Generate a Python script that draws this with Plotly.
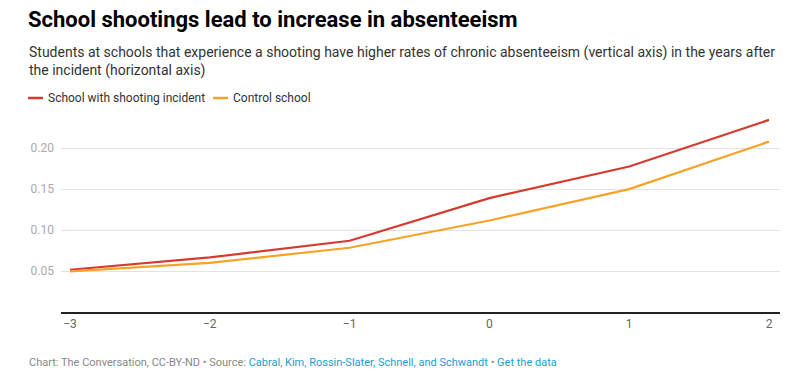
import plotly.graph_objects as go

years = [-3, -2, -1, 0, 1, 2]
shooting_school = [0.0516, 0.0666, 0.087, 0.139, 0.1776, 0.2345]
control_school = [0.0495, 0.060, 0.0784, 0.1117, 0.150, 0.208]
series_names = ["School with shooting incident", "Control school"]
series_colors = ["#d63a2f", "#f5a327"]
y_ticks = [0.05, 0.10, 0.15, 0.20]
x_ticks = [-3, -2, -1, 0, 1, 2]

W, H = 806, 385
L, R, T, B = 61, 26, 115, 73
pw, ph = W - L - R, H - T - B

def px(x):
    return (x - L) / pw

def py(y):
    return (H - B - y) / ph

fig = go.Figure()
for name, vals, col in zip(series_names, [shooting_school, control_school], series_colors):
    fig.add_trace(go.Scatter(x=years, y=vals, mode="lines", name=name,
                             line=dict(color=col, width=2.2), showlegend=False,
                             hoverinfo="skip"))

annotations = [
    dict(text="<b>School shootings lead to increase in absenteeism</b>",
         x=px(26), y=py(19), xanchor="left", yanchor="middle",
         font=dict(family="Roboto", size=22, color="#000")),
    dict(text="Students at schools that experience a shooting have higher rates of chronic absenteeism (vertical axis) in the years after<br>the incident (horizontal axis)",
         x=px(27), y=py(61), xanchor="left", yanchor="middle", align="left",
         font=dict(family="Roboto", size=14, color="#333")),
    dict(text="Chart: The Conversation, CC-BY-ND • Source: <span style='color:#1aa0cf'>Cabral, Kim, Rossin-Slater, Schnell, and Schwandt</span> • <span style='color:#1aa0cf'>Get the data</span>",
         x=px(27), y=py(362), xanchor="left", yanchor="middle",
         font=dict(family="Roboto", size=11, color="#888")),
]
shapes = []
leg_x = [28, 213]
for name, col, lx in zip(series_names, series_colors, leg_x):
    shapes.append(dict(type="line", xref="paper", yref="paper",
                       x0=px(lx), x1=px(lx + 15), y0=py(98), y1=py(98),
                       line=dict(color=col, width=2.5)))
    annotations.append(dict(text=name, x=px(lx + 18), y=py(98), xanchor="left",
                            yanchor="middle",
                            font=dict(family="Roboto", size=12, color="#333")))
for a in annotations:
    a.update(xref="paper", yref="paper", showarrow=False)

x0 = -3 - 9 / 139.8
x1 = 2 + 11 / 139.8
fig.update_layout(
    width=W, height=H, margin=dict(l=L, r=R, t=T, b=B),
    paper_bgcolor="white", plot_bgcolor="white",
    annotations=annotations, shapes=shapes,
    xaxis=dict(range=[x0, x1], tickvals=x_ticks, showgrid=False, zeroline=False,
               showline=True, linecolor="#222", linewidth=1.5,
               tickfont=dict(family="Roboto", size=12, color="#666"),
               ticks="", fixedrange=True),
    yaxis=dict(range=[0, 0.2405], tickvals=y_ticks, tickformat=".2f",
               showgrid=True, gridcolor="#e3e3e3", gridwidth=1, zeroline=False,
               tickfont=dict(family="Roboto", size=12, color="#aaa"),
               ticks="", ticklabelstandoff=6, fixedrange=True),
    hovermode=False,
)
fig.write_html("out.html", config={"displayModeBar": False},
               post_script="document.body.style.margin='0px';document.body.style.overflow='hidden';")
